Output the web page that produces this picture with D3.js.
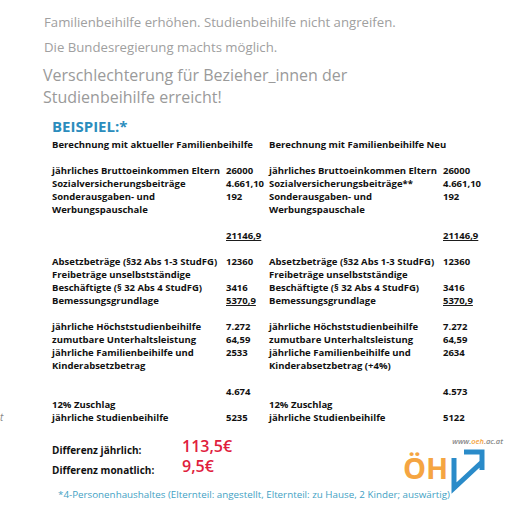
<!DOCTYPE html>
<html><head><meta charset="utf-8">
<script src="https://cdn.jsdelivr.net/npm/d3@7"></script>
<style>body{margin:0;background:#fff}</style></head>
<body><div id="chart"></div>
<script>
// rows: [line index, label, value, underline]
const leftRows = [
  [0, 'jährliches Bruttoeinkommen Eltern', '26000'],
  [1, 'Sozialversicherungsbeiträge', '4.661,10'],
  [2, 'Sonderausgaben- und', '192'],
  [3, 'Werbungspauschale', ''],
  [5, '', '21146,9', true],
  [7, 'Absetzbeträge (§32 Abs 1-3 StudFG)', '12360'],
  [8, 'Freibeträge unselbstständige', ''],
  [9, 'Beschäftigte (§ 32 Abs 4 StudFG)', '3416'],
  [10, 'Bemessungsgrundlage', '5370,9', true],
  [12, 'jährliche Höchststudienbeihilfe', '7.272'],
  [13, 'zumutbare Unterhaltsleistung', '64,59'],
  [14, 'jährliche Familienbeihilfe und', '2533'],
  [15, 'Kinderabsetzbetrag', ''],
  [17, '', '4.674'],
  [18, '12% Zuschlag', ''],
  [19, 'jährliche Studienbeihilfe', '5235']
];
const rightRows = [
  [0, 'jährliches Bruttoeinkommen Eltern', '26000'],
  [1, 'Sozialversicherungsbeiträge**', '4.661,10'],
  [2, 'Sonderausgaben- und', '192'],
  [3, 'Werbungspauschale', ''],
  [5, '', '21146,9', true],
  [7, 'Absetzbeträge (§32 Abs 1-3 StudFG)', '12360'],
  [8, 'Freibeträge unselbstständige', ''],
  [9, 'Beschäftigte (§ 32 Abs 4 StudFG)', '3416'],
  [10, 'Bemessungsgrundlage', '5370,9', true],
  [12, 'jährliche Höchststudienbeihilfe', '7.272'],
  [13, 'zumutbare Unterhaltsleistung', '64,59'],
  [14, 'jährliche Familienbeihilfe und', '2634'],
  [15, 'Kinderabsetzbetrag (+4%)', ''],
  [17, '', '4.573'],
  [18, '12% Zuschlag', ''],
  [19, 'jährliche Studienbeihilfe', '5122']
];
const headers = ['Berechnung mit aktueller Familienbeihilfe', 'Berechnung mit Familienbeihilfe Neu'];
const diffs = [['Differenz jährlich:', '113,5€'], ['Differenz monatlich:', '9,5€']];

const svg = d3.select('#chart').append('svg').attr('width', 512).attr('height', 512);
const F = 'Open Sans, sans-serif';

const y = d3.scaleLinear().domain([0, 19]).range([174, 421]);

svg.append('text').attr('x', 44).attr('y', 27).attr('font-family', F).attr('font-size', 13.2)
  .attr('fill', '#a0a0a0').text('Familienbeihilfe erhöhen. Studienbeihilfe nicht angreifen.');
svg.append('text').attr('x', 44).attr('y', 52).attr('font-family', F).attr('font-size', 13.2)
  .attr('fill', '#a0a0a0').text('Die Bundesregierung machts möglich.');
svg.append('text').attr('x', 43).attr('y', 81).attr('font-family', F).attr('font-size', 16)
  .attr('fill', '#9a9a9a').text('Verschlechterung für Bezieher_innen der');
svg.append('text').attr('x', 43).attr('y', 103).attr('font-family', F).attr('font-size', 16)
  .attr('fill', '#9a9a9a').text('Studienbeihilfe erreicht!');
svg.append('text').attr('x', 52).attr('y', 132).attr('font-family', F).attr('font-size', 15)
  .attr('font-weight', 'bold').attr('fill', '#2b8dbd').text('BEISPIEL:*');

const cols = [{lx: 52, vx: 226, rows: leftRows}, {lx: 269, vx: 443, rows: rightRows}];
cols.forEach((c, i) => {
  const g = svg.append('g').attr('font-family', F).attr('font-size', 9.5)
    .attr('font-weight', 700).attr('fill', '#111');
  g.append('text').attr('x', c.lx).attr('y', 148).text(headers[i]);
  g.selectAll('.lab').data(c.rows.filter(d => d[1])).join('text')
    .attr('x', c.lx).attr('y', d => y(d[0])).text(d => d[1]);
  g.selectAll('.val').data(c.rows.filter(d => d[2])).join('text')
    .attr('x', c.vx).attr('y', d => y(d[0])).text(d => d[2])
    .attr('text-decoration', d => d[3] ? 'underline' : null);
});

svg.append('text').attr('x', 0).attr('y', 421).attr('font-family', F).attr('font-size', 10)
  .attr('font-style', 'italic').attr('fill', '#888').text('t');

const dy = d3.scaleLinear().domain([0, 1]).range([454, 474]);
diffs.forEach((d, i) => {
  svg.append('text').attr('x', 52).attr('y', dy(i)).attr('font-family', F).attr('font-size', 10)
    .attr('font-weight', 700).attr('fill', '#111').text(d[0]);
  svg.append('text').attr('x', 182).attr('y', dy(i) - 2).attr('font-family', F).attr('font-size', 16)
    .attr('font-weight', 600).attr('fill', '#e0203c').text(d[1]);
});

svg.append('text').attr('x', 503).attr('y', 444).attr('text-anchor', 'end').attr('font-family', F)
  .attr('font-size', 7.5).attr('font-style', 'italic').attr('font-weight', 600).attr('fill', '#888')
  .html('www.<tspan fill="#f4a340">oeh</tspan>.ac.at');

// logo
const logo = svg.append('g');
logo.append('text').attr('x', 403).attr('y', 479).attr('font-family', F).attr('font-size', 29)
  .attr('font-weight', 'bold').attr('fill', '#f5a542').text('ÖH');
logo.append('path').attr('d', 'M454,458 L454,488 L482,462 M464,452 L482,452 L482,470')
  .attr('fill', 'none').attr('stroke', '#2a8bc9').attr('stroke-width', 5);

svg.append('text').attr('x', 58).attr('y', 498).attr('font-family', F).attr('font-size', 9.8)
  .attr('fill', '#3f9fc4')
  .text('*4-Personenhaushaltes (Elternteil: angestellt, Elternteil: zu Hause, 2 Kinder; auswärtig)');
</script></body></html>
